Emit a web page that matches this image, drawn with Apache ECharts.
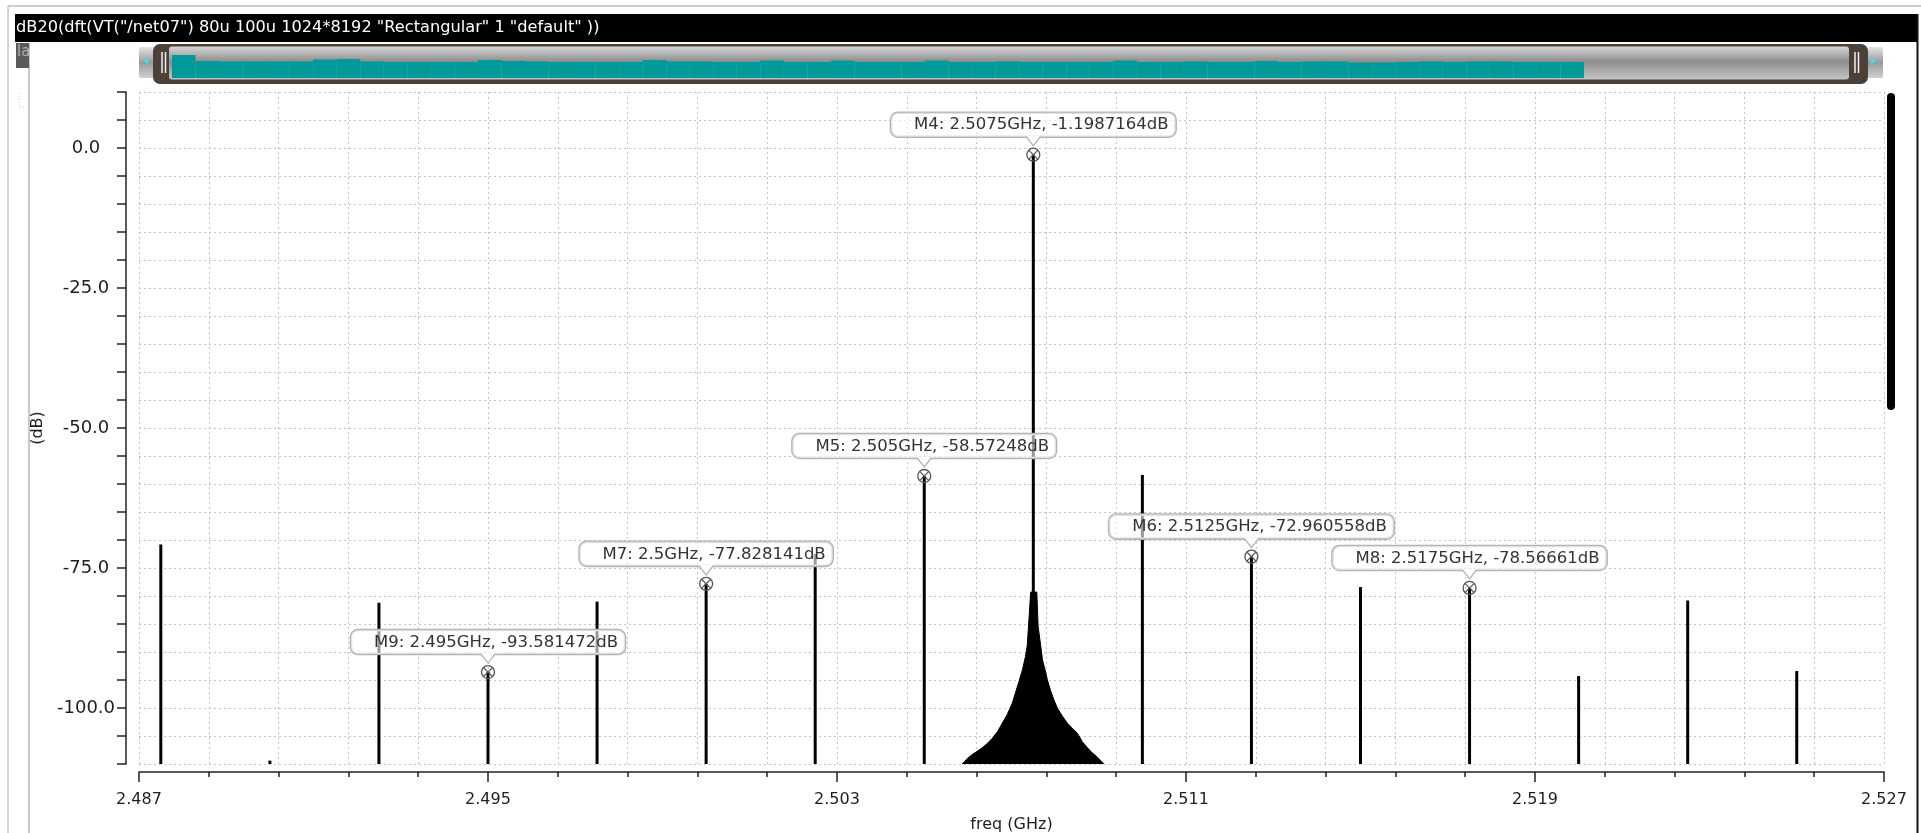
<!DOCTYPE html>
<html>
<head>
<meta charset="utf-8">
<script src="https://cdn.jsdelivr.net/npm/echarts@6/dist/echarts.min.js"></script>
<style>
html,body{margin:0;padding:0;background:#fff;}
#chart{width:1921px;height:833px;}
</style>
</head>
<body>
<div id="chart"></div>
<script>
// ---------------- data ----------------
const titleText = 'dB20(dft(VT("/net07") 80u 100u 1024*8192 "Rectangular" 1 "default" ))';
const xAxisName = 'freq (GHz)';
const yAxisName = '(dB)';
const freqStart = 2.487;   // GHz, left end of the axis
const freqEnd = 2.527;     // GHz, right end of the axis
const freqStep = 0.008;    // GHz between labelled ticks
const dbMin = -110;
const dbMax = 10;

// discrete spectral lines (GHz, dB)
const stemFreqs  = [2.4875, 2.4900, 2.4925, 2.4950, 2.4975, 2.5000, 2.5025, 2.5050, 2.5075, 2.5100, 2.5125, 2.5150, 2.5175, 2.5200, 2.5225, 2.5250];
const stemValues = [-70.8, -109.4, -81.2, -93.581472, -81.0, -77.828141, -72.5, -58.57248, -1.1987164, -58.4, -72.960558, -78.4, -78.56661, -94.3, -80.8, -93.4];

// leakage skirt around the carrier (GHz, dB)
const skirtFreqs  = [2.50587, 2.50599, 2.50610, 2.50622, 2.50633, 2.50645, 2.50656, 2.50668, 2.50679, 2.50690, 2.50702, 2.50709, 2.50717, 2.50725, 2.50732, 2.50736, 2.50739, 2.50744,
                     2.50758, 2.50761, 2.50767, 2.50771, 2.50777, 2.50782, 2.50790, 2.50797, 2.50805, 2.50817, 2.50828, 2.50839, 2.50851, 2.50862, 2.50874, 2.50885, 2.50897, 2.50912];
const skirtValues = [-110, -109.0, -108.3, -107.7, -107.1, -106.3, -105.4, -104.2, -102.7, -101.2, -99.1, -97.3, -95.3, -93.2, -90.8, -88.9, -85.4, -79.3,
                     -79.3, -85.4, -88.9, -91.4, -93.2, -94.9, -97.0, -98.5, -100.0, -101.5, -102.7, -103.6, -104.5, -106.0, -107.1, -108.0, -108.8, -110];

// markers
const markerNames  = ['M4', 'M5', 'M6', 'M7', 'M8', 'M9'];
const markerFreqs  = [2.5075, 2.505, 2.5125, 2.5, 2.5175, 2.495];
const markerValues = [-1.1987164, -58.57248, -72.960558, -77.828141, -78.56661, -93.581472];

// overview strip levels (relative heights of the teal miniature)
const overviewLevels = [23, 17, 16.5, 16.5, 16.5, 16.5, 18.5, 19, 16.5, 16, 16, 16, 16, 18, 17, 16.5, 16, 16, 16, 16,
                        18, 16.5, 16.5, 16, 16, 17.5, 16, 16, 17.5, 16, 16, 16, 17.5, 16, 16, 16.5, 16, 16, 16, 16,
                        17.5, 16, 16, 16.5, 16, 16, 17, 16, 16.5, 16.5, 15.5, 15.5, 16, 16.5, 16, 16.5, 16.5, 16, 16, 16];

// ---------------- chart ----------------
const FONT = '"DejaVu Sans", "Noto Sans", sans-serif';
const toAxis = f => (f - freqStart) * 1000;           // MHz from the axis origin
const axisSpan = Math.round((freqEnd - freqStart) * 1000);
const axisStep = Math.round(freqStep * 1000);

const stemData = stemFreqs.map((f, i) => [toAxis(f), stemValues[i]]);
const skirtData = skirtFreqs.map((f, i) => [toAxis(f), skirtValues[i]]);
const markerData = markerFreqs.map((f, i) => [toAxis(f), markerValues[i]]);
const markerLabels = markerNames.map((n, i) => n + ': ' + String(markerFreqs[i]) + 'GHz, ' + String(markerValues[i]) + 'dB');

const chart = echarts.init(document.getElementById('chart'), null, {renderer: 'canvas'});

const dotted = {type: [2, 3], color: '#c4c4c4', width: 1};
const glossy = () => new echarts.graphic.LinearGradient(0, 0, 0, 1, [
  {offset: 0, color: '#e4e4e4'}, {offset: 0.5, color: '#9a9a9a'}, {offset: 1, color: '#cfcfcf'}]);

const option = {
  animation: false,
  backgroundColor: '#ffffff',
  grid: [
    {left: 139, right: 37, top: 92, bottom: 69, outerBoundsMode: 'none', containLabel: false},
    {left: 172, top: 48, width: 1412, height: 30, outerBoundsMode: 'none', containLabel: false}
  ],
  xAxis: [
    {
      type: 'value', gridIndex: 0, min: 0, max: axisSpan, interval: axisStep, offset: 8,
      axisLine: {show: true, onZero: false, lineStyle: {color: '#222', width: 1.5}},
      axisTick: {show: true, length: 10, lineStyle: {color: '#222', width: 1.5}},
      minorTick: {show: true, splitNumber: 5, length: 5, lineStyle: {color: '#222', width: 1.5}},
      splitLine: {show: true, lineStyle: dotted},
      minorSplitLine: {show: true, lineStyle: dotted},
      axisLabel: {
        formatter: v => (freqStart + v / 1000).toFixed(3),
        margin: 20, fontSize: 16, color: '#1e1e1e', fontFamily: FONT
      },
      name: xAxisName, nameLocation: 'middle', nameGap: 45,
      nameTextStyle: {fontSize: 16, color: '#1e1e1e', fontFamily: FONT}
    },
    {type: 'category', gridIndex: 1, data: overviewLevels.map((v, i) => i), show: false}
  ],
  yAxis: [
    {
      type: 'value', gridIndex: 0, min: dbMin, max: dbMax, interval: 5, offset: 13,
      axisLine: {show: true, onZero: false, lineStyle: {color: '#222', width: 1.5}},
      axisTick: {show: true, length: 9, lineStyle: {color: '#222', width: 1.5}},
      splitLine: {show: true, lineStyle: dotted},
      axisLabel: {
        formatter: v => (Math.round(v) % 25 === 0 ? v.toFixed(1) : ''),
        align: 'center', margin: 40, fontSize: 18, color: '#1e1e1e', fontFamily: FONT
      },
      name: yAxisName, nameLocation: 'middle', nameGap: 71,
      nameTextStyle: {fontSize: 16, color: '#1e1e1e', fontFamily: FONT}
    },
    {type: 'value', gridIndex: 1, min: 0, max: 30, show: false}
  ],
  graphic: [
    // window frame lines
    {type: 'line', z: 0, shape: {x1: 8, y1: 6, x2: 1921, y2: 6}, style: {stroke: '#bdbdbd', lineWidth: 1.5}},
    {type: 'line', z: 0, shape: {x1: 8, y1: 6, x2: 8, y2: 833}, style: {stroke: '#c6c6c6', lineWidth: 1.5}},
    {type: 'line', z: 0, shape: {x1: 29, y1: 43, x2: 29, y2: 833}, style: {stroke: '#c8c8c8', lineWidth: 2}},
    {type: 'rect', z: 0, shape: {x: 16, y: 43, width: 13, height: 25}, style: {fill: '#5a5a5a'}},
    {type: 'text', z: 1, x: 17, y: 45, style: {text: 'la', fill: '#b0b0b0', font: '15px ' + FONT}},
    {type: 'polyline', z: 0, shape: {points: [[19, 93], [19, 107], [24, 107]]}, style: {stroke: '#c8c8c8', lineWidth: 1, lineDash: [1, 2], fill: null}},
    // title band
    {type: 'rect', z: 0, shape: {x: 15, y: 14, width: 1903, height: 28}, style: {fill: '#000'}},
    {type: 'text', z: 1, x: 16, y: 28, style: {text: titleText, fill: '#fff', font: '16.2px ' + FONT, verticalAlign: 'middle'}},
    {type: 'line', z: 0, shape: {x1: 1917.5, y1: 14, x2: 1917.5, y2: 833}, style: {stroke: '#111', lineWidth: 2}},
    // overview scroller
    {type: 'rect', z: 0, shape: {x: 139, y: 47, width: 16, height: 31, r: 2}, style: {fill: glossy()}},
    {type: 'polygon', z: 1, shape: {points: [[143, 61], [148, 57.5], [148, 64.5]]}, style: {fill: '#38e0ea'}},
    {type: 'rect', z: 0, shape: {x: 1867, y: 47, width: 16, height: 31, r: 2}, style: {fill: glossy()}},
    {type: 'polygon', z: 1, shape: {points: [[1876, 61], [1871, 57.5], [1871, 64.5]]}, style: {fill: '#38e0ea'}},
    {type: 'rect', z: 0, shape: {x: 153, y: 44, width: 1715, height: 40, r: 7}, style: {fill: '#4b4139'}},
    {type: 'rect', z: 0, shape: {x: 169, y: 46.5, width: 1680, height: 33, r: 3},
      style: {fill: new echarts.graphic.LinearGradient(0, 0, 0, 1, [{offset: 0, color: '#d6d6d6'}, {offset: 0.45, color: '#8e8e8e'}, {offset: 1, color: '#c4c4c4'}])}},
    {type: 'line', z: 1, shape: {x1: 162, y1: 52, x2: 162, y2: 73}, style: {stroke: '#f2f2f2', lineWidth: 1.5}},
    {type: 'line', z: 1, shape: {x1: 165.5, y1: 52, x2: 165.5, y2: 73}, style: {stroke: '#f2f2f2', lineWidth: 1.5}},
    {type: 'line', z: 1, shape: {x1: 1855, y1: 52, x2: 1855, y2: 73}, style: {stroke: '#f2f2f2', lineWidth: 1.5}},
    {type: 'line', z: 1, shape: {x1: 1858.5, y1: 52, x2: 1858.5, y2: 73}, style: {stroke: '#f2f2f2', lineWidth: 1.5}},
    // vertical scroll thumb on the right
    {type: 'rect', z: 1, shape: {x: 1887, y: 93, width: 8, height: 317, r: 4}, style: {fill: '#000'}}
  ],
  series: [
    {
      name: 'overview', type: 'bar', xAxisIndex: 1, yAxisIndex: 1, data: overviewLevels,
      barCategoryGap: '0%', itemStyle: {color: '#009a9a'}, silent: true, z: 3
    },
    {
      name: 'skirt', type: 'line', xAxisIndex: 0, yAxisIndex: 0, data: skirtData,
      symbol: 'none', lineStyle: {color: '#000', width: 1},
      areaStyle: {color: '#000', opacity: 1, origin: 'start'}, silent: true, z: 3
    },
    {
      name: 'stems', type: 'custom', xAxisIndex: 0, yAxisIndex: 0, data: stemData,
      encode: {x: 0, y: 1}, silent: true, z: 4,
      renderItem: (params, api) => {
        const top = api.coord([api.value(0), api.value(1)]);
        const bot = api.coord([api.value(0), dbMin]);
        return {type: 'line', shape: {x1: top[0], y1: top[1], x2: bot[0], y2: bot[1]},
          style: {stroke: '#000', lineWidth: 3}};
      }
    },
    {
      name: 'markers', type: 'custom', xAxisIndex: 0, yAxisIndex: 0, data: markerData,
      encode: {x: 0, y: 1}, silent: true, z: 6, clip: false,
      renderItem: (params, api) => {
        const p = api.coord([api.value(0), api.value(1)]);
        const cx = p[0], cy = p[1];
        const bb = cy - 18;
        return {type: 'group', children: [
          {type: 'text', x: cx, y: bb, style: {
            text: markerLabels[params.dataIndex], fill: '#333', font: '16.5px ' + FONT,
            align: 'center', verticalAlign: 'bottom',
            backgroundColor: 'rgba(255,255,255,0.6)', borderColor: '#b4b4b4', borderWidth: 1.3,
            borderRadius: 7, padding: [4, 7, 3, 23]}},
          {type: 'polygon', shape: {points: [[cx - 7, bb - 1], [cx + 7, bb - 1], [cx, cy - 9]]}, style: {fill: '#fff'}},
          {type: 'polyline', shape: {points: [[cx - 7, bb], [cx, cy - 9], [cx + 7, bb]]}, style: {stroke: '#b4b4b4', lineWidth: 1.3, fill: null}},
          {type: 'circle', shape: {cx: cx, cy: cy, r: 6.5}, style: {fill: 'rgba(255,255,255,0)', stroke: '#555', lineWidth: 1.3}},
          {type: 'line', shape: {x1: cx - 4.6, y1: cy - 4.6, x2: cx + 4.6, y2: cy + 4.6}, style: {stroke: '#555', lineWidth: 1.2}},
          {type: 'line', shape: {x1: cx - 4.6, y1: cy + 4.6, x2: cx + 4.6, y2: cy - 4.6}, style: {stroke: '#555', lineWidth: 1.2}}
        ]};
      }
    }
  ]
};
chart.setOption(option);
</script>
</body>
</html>
